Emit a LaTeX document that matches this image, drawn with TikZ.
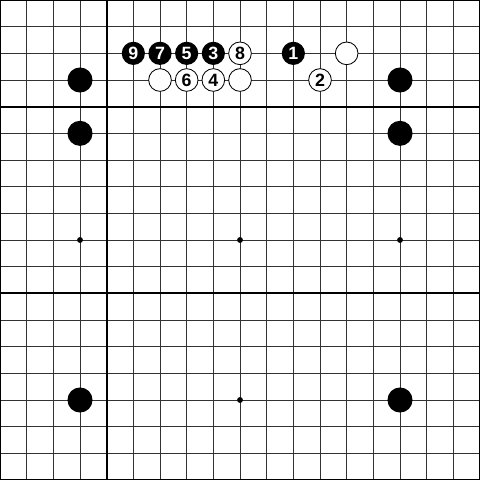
\documentclass[tikz,border=0pt]{standalone}
\usepackage{fontspec}
\setmainfont{Liberation Sans}
\begin{document}
\begin{tikzpicture}[x=1cm,y=-1cm,
  thinline/.style={line width=1pt,draw=black!80},
  thickline/.style={line width=2pt,draw=black},
  bstone/.style={circle,fill=black,inner sep=0pt,minimum size=0.94cm},
  nbstone/.style={circle,fill=black,inner sep=0pt,minimum size=0.87cm,text=white,font=\fontsize{19}{19}\selectfont\bfseries},
  wstone/.style={circle,fill=white,draw=black,line width=0.9pt,inner sep=0pt,minimum size=0.85cm,text=black,font=\fontsize{19}{19}\selectfont\bfseries},
  starpt/.style={circle,fill=black,inner sep=0pt,minimum size=0.22cm}]
\useasboundingbox (0,0) rectangle (18,18);
\fill[white] (0,0) rectangle (18,18);
% grid
\foreach \i in {1,...,17} {
  \draw[thinline] (\i,0) -- (\i,18);
  \draw[thinline] (0,\i) -- (18,\i);
}
\draw[thickline] (4,0) -- (4,18);
\draw[thickline] (0,4) -- (18,4);
\draw[thickline] (0,11) -- (18,11);
\draw[line width=2.4pt] (0,0) rectangle (18,18);
% star points
\node[starpt] (s1) at (3,9) {};
\node[starpt] (s2) at (9,9) {};
\node[starpt] (s3) at (15,9) {};
\node[starpt] (s4) at (9,15) {};
% plain black stones
\node[bstone] (b1) at (3,3) {};
\node[bstone] (b2) at (3,5) {};
\node[bstone] (b3) at (15,3) {};
\node[bstone] (b4) at (15,5) {};
\node[bstone] (b5) at (3,15) {};
\node[bstone] (b6) at (15,15) {};
% numbered black stones
\node[nbstone] (m9) at (5,2) {9};
\node[nbstone] (m7) at (6,2) {7};
\node[nbstone] (m5) at (7,2) {5};
\node[nbstone] (m3) at (8,2) {3};
\node[nbstone] (m1) at (11,2) {1};
% white stones
\node[wstone] (m8) at (9,2) {8};
\node[wstone] (w1) at (6,3) {};
\node[wstone] (m6) at (7,3) {6};
\node[wstone] (m4) at (8,3) {4};
\node[wstone] (w2) at (9,3) {};
\node[wstone] (w3) at (13,2) {};
\node[wstone] (m2) at (12,3) {2};
\end{tikzpicture}
\end{document}
